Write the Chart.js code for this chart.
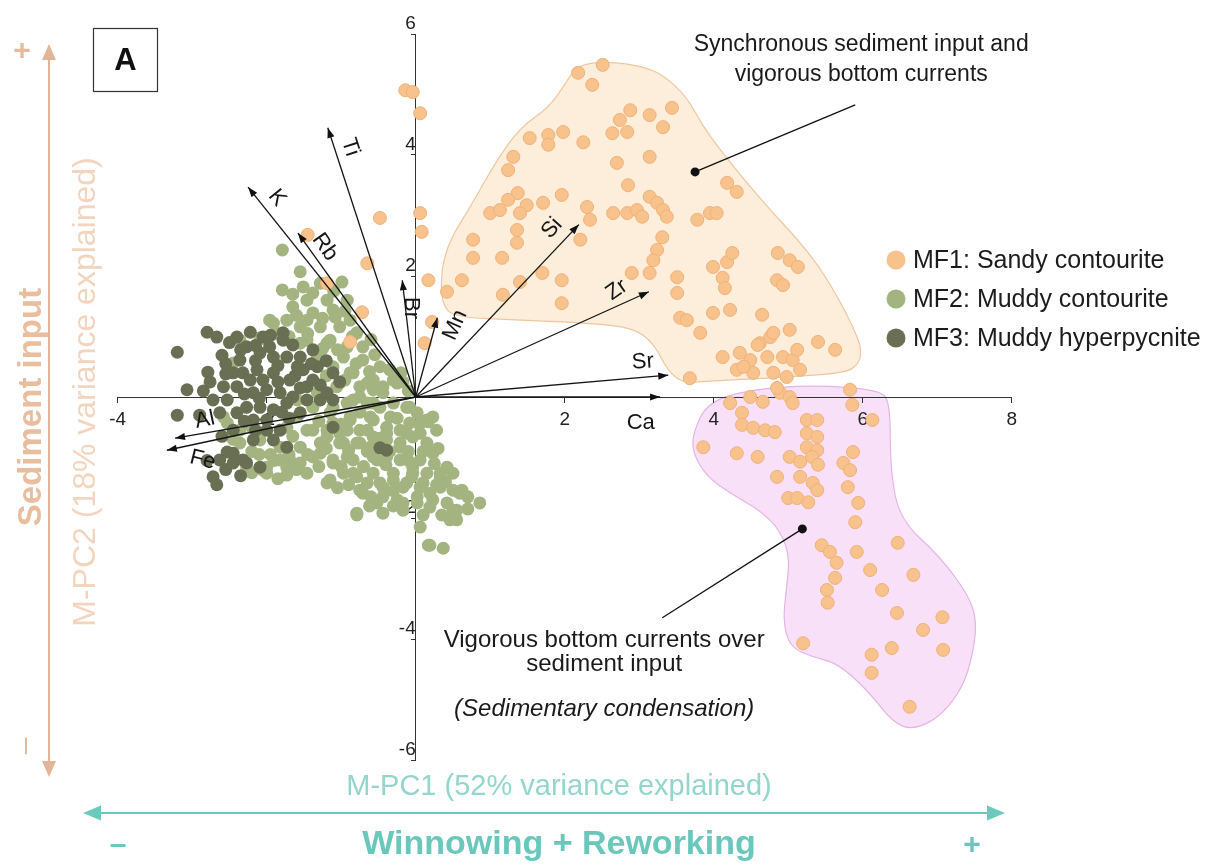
<!DOCTYPE html>
<html>
<head>
<meta charset="utf-8">
<title>M-PCA biplot</title>
<script src="https://cdn.jsdelivr.net/npm/chart.js@4.4.1/dist/chart.umd.min.js"></script>
<style>
  html, body { margin: 0; padding: 0; background: #ffffff; }
  #wrap { position: relative; width: 1228px; height: 866px; }
</style>
</head>
<body>
<div id="wrap"><canvas id="biplot"></canvas></div>
<script>
// ---- Sample scores on M-PC1 (x) and M-PC2 (y), one array per microfacies ----
const seriesNames = ['MF1: Sandy contourite', 'MF2: Muddy contourite', 'MF3: Muddy hyperpycnite'];

const mf1Scores = [
  [2.18,5.36],[2.51,5.49],[2.37,5.16],[2.88,4.74],[3.14,4.66],[3.44,4.78],[2.74,4.58],[3.32,4.46],[2.64,4.36],[2.84,4.38],
  [1.98,4.38],[1.78,4.33],[1.53,4.28],[1.78,4.17],[2.25,4.21],[3.14,3.97],[2.70,3.87],[1.31,3.97],[1.24,3.75],[2.85,3.50],
  [4.18,3.54],[4.31,3.39],[1.96,3.34],[1.37,3.37],[1.24,3.26],[1.71,3.21],[1.49,3.17],[1.00,3.04],[1.13,3.09],[3.14,3.31],
  [3.24,3.21],[3.32,3.09],[3.37,2.98],[2.30,3.14],[2.34,2.93],[2.65,3.04],[2.84,3.04],[2.97,3.09],[3.04,2.98],[3.78,2.93],
  [3.95,3.04],[4.04,3.04],[1.40,3.04],[1.36,2.76],[1.36,2.55],[0.77,2.60],[2.21,2.60],[1.16,2.30],[0.77,2.30],[3.31,2.64],
  [3.24,2.43],[3.19,2.26],[3.14,2.05],[2.90,2.05],[1.70,2.05],[1.40,1.90],[1.96,1.93],[0.62,1.93],[0.42,1.74],[1.17,1.69],
  [1.96,1.55],[3.51,1.98],[3.51,1.72],[3.99,2.15],[4.18,2.23],[4.25,2.38],[4.12,1.97],[4.15,1.80],[4.86,2.38],[5.02,2.26],
  [5.13,2.15],[4.85,1.93],[4.93,1.85],[3.55,1.31],[3.64,1.27],[3.82,1.06],[3.99,1.39],[4.22,1.44],[4.65,1.36],[4.12,0.66],
  [4.35,0.73],[4.49,0.61],[4.62,0.89],[4.76,0.99],[5.02,1.11],[4.53,0.40],[4.80,0.40],[4.93,0.66],[5.06,0.61],[5.16,0.45],
  [4.98,0.33],[5.40,0.91],[5.63,0.78],[3.68,0.31],[4.31,0.45],[5.12,0.78],[4.59,0.86],[4.72,0.66],[4.40,0.50],[4.80,1.06],
  [-0.14,5.07],[-0.04,5.04],[0.06,4.69],[0.06,3.04],[0.08,2.73],[-0.48,2.96],[-0.65,2.21],[0.17,1.93],[-0.72,1.40],[-0.88,0.91],
  [0.22,1.24],[0.12,0.89],[-1.45,2.68],[-1.19,1.88],
  [4.22,-0.10],[4.49,0.00],[4.66,-0.08],[4.89,0.07],[5.02,0.00],[5.06,-0.10],[5.83,0.12],[5.86,-0.13],[6.13,-0.38],[4.38,-0.26],
  [4.38,-0.46],[4.53,-0.51],[4.69,-0.55],[4.82,-0.58],[3.86,-0.83],[4.31,-0.93],[4.59,-0.99],[5.25,-0.38],[5.39,-0.38],[5.25,-0.60],
  [5.39,-0.66],[5.25,-0.83],[5.39,-0.88],[5.02,-0.99],[5.16,-1.07],[5.32,-0.99],[5.40,-1.12],[4.85,-1.32],[5.16,-1.32],[5.33,-1.42],
  [5.39,-1.54],[5.00,-1.67],[5.12,-1.67],[5.27,-1.74],[5.87,-0.91],[5.74,-1.09],[5.83,-1.21],[5.80,-1.49],[5.94,-1.75],[5.90,-2.07],
  [5.45,-2.45],[5.56,-2.56],[5.65,-2.74],[5.63,-2.99],[5.52,-3.19],[5.53,-3.40],[5.92,-2.56],[6.10,-2.86],[6.26,-3.19],[6.47,-2.41],
  [6.68,-2.94],[6.46,-3.57],[6.81,-3.85],[7.07,-3.64],[7.08,-4.18],[6.39,-4.15],[6.12,-4.26],[6.12,-4.56],[5.20,-4.07],[6.63,-5.12],
  [4.85,0.15]
];

const mf2Scores = [
  [-1.79,2.43],[-1.55,2.07],[-1.79,1.77],[-1.51,1.82],[-1.28,1.88],[-0.99,1.90],[-1.65,1.49],[-1.46,1.60],[-1.19,1.60],[-0.92,1.60],
  [-1.73,1.27],[-1.38,1.39],[-1.11,1.44],[-0.88,1.27],[-1.91,1.22],[-1.55,1.16],[-1.28,1.16],[-1.02,1.16],[-0.79,1.06],[-2.00,0.94],
  [-1.15,0.94],[-0.92,0.83],[-0.71,0.83],[-0.97,0.66],[-0.71,0.61],[-0.48,0.50],[-1.11,0.50],[-0.84,0.40],[-0.57,0.28],[-0.25,0.23],
  [-0.75,0.17],[-0.44,0.07],[-1.06,0.17],[-1.32,0.07],[-1.59,-0.05],[-0.84,-0.05],[-0.57,-0.10],[-0.30,-0.10],[-0.12,-0.17],[0.02,-0.26],
  [0.15,-0.38],[-0.08,-0.43],[-0.34,-0.33],[-0.61,-0.33],[-0.88,-0.33],[-1.15,-0.26],[-1.38,-0.17],[-1.59,-0.33],[-1.73,-0.50],[-1.46,-0.55],
  [-1.19,-0.55],[-0.92,-0.55],[-0.65,-0.55],[-0.39,-0.60],[-0.12,-0.60],[0.06,-0.60],[-0.21,-0.83],[-0.48,-0.83],[-0.75,-0.76],[-1.02,-0.76],
  [-1.28,-0.76],[-1.55,-0.83],[-1.82,-0.83],[-2.09,-0.71],[-2.36,-0.76],[-2.36,-0.55],[-2.53,-0.43],[-2.27,-1.16],[-2.00,-1.16],[-1.69,-1.04],
  [-1.38,-0.99],[-1.11,-1.04],[-0.84,-1.04],[-0.52,-1.04],[-0.21,-1.04],[0.06,-1.04],[0.23,-0.93],[-0.04,-1.26],[-0.30,-1.26],[-0.57,-1.26],
  [-0.84,-1.26],[-1.15,-1.37],[-1.46,-1.26],[-1.73,-1.16],[-2.00,-1.26],[-1.19,-1.42],[-0.75,-1.54],[-0.44,-1.49],[-0.17,-1.49],[0.10,-1.42],
  [0.33,-1.26],[0.42,-1.16],[0.50,-1.54],[0.59,-1.59],[0.86,-1.75],[0.42,-1.75],[0.23,-1.70],[0.02,-1.65],[-0.25,-1.70],[-0.52,-1.75],
  [-0.79,-1.92],[-0.44,-1.92],[-0.17,-1.87],[0.19,-1.82],[0.50,-1.87],[0.46,-2.03],[0.55,-2.03],[0.06,-2.15],[0.19,-2.45],[0.37,-2.50],
  [0.23,-0.33],[-0.17,0.25],[0.17,-0.41],
  [-0.08,-0.17],[-0.48,-0.17],[-0.65,-0.10],[-0.57,-0.38],[-0.39,-0.50],[-0.21,-0.55],[-0.04,-0.66],[0.15,-0.76],[0.50,-1.26],[0.33,-1.32],
  [0.15,-1.26],[-0.04,-1.16],[-0.39,-0.99],[-0.57,-0.99],[-0.92,-0.99],[-1.11,-1.09],[-0.97,-1.26],[-0.79,-1.32],[-0.65,-1.42],[-0.48,-1.42],
  [-0.30,-1.37],[-0.12,-1.42],[0.06,-1.49],[0.19,-1.59],[0.33,-1.49],[0.62,-1.54],[0.55,-1.87],[0.02,-1.75],[-0.17,-1.75],[-0.44,-1.65],
  [-0.71,-1.59],[-0.79,-1.95],[0.17,-2.45],[-0.97,-0.76],[-1.19,-0.66],[-1.38,-0.55],[-1.28,-0.93],[-1.11,-0.43],[-0.88,-0.38],[-0.75,-0.55],
  [-0.57,-0.66],[-0.39,-0.71],[-0.21,-0.76],[-1.02,-0.60],[-0.79,-0.76],[-0.61,-0.83],[-0.44,-0.83],[-1.11,-0.17],[-0.92,-0.10],[-0.75,0.00],
  [-0.57,0.12],[-0.44,0.17],[-0.65,0.23],[-0.88,0.40],[-1.02,0.23],
  [-1.96,1.27],[-1.46,1.27],[-1.08,1.32],[-2.09,0.98],[-2.36,0.94],[-1.46,0.94],[-1.19,0.89],[-1.32,0.66],
  [-2.05,-1.21],[-1.82,-1.04],[-1.73,-1.29],[-1.55,-1.09],[-2.45,0.56],[-2.58,-0.33],[-1.55,0.89],
  [-1.65,1.70],[-1.38,1.72],[-1.10,1.75],[-1.60,1.35],[-1.25,1.30],[-0.95,1.42],[-1.85,1.05],[-1.45,1.05],[-0.60,0.95],[-0.85,1.00],
  [-1.70,1.00],[-1.25,0.80],[-1.05,0.78],[-0.55,0.70],[-0.35,0.45],[-0.62,0.42],[-0.20,0.40],[-0.30,0.28],[-0.10,0.10],[-0.95,0.28],
  [-1.20,0.35],[-0.80,0.55],[-1.65,-0.65],[-1.30,-0.40],[-1.00,-0.45],[-0.75,-0.25],[-0.48,-0.68],[-0.25,-0.35],[0.05,-0.45],[0.28,-0.55],
  [0.30,-0.85],[0.10,-0.90],[-0.10,-0.90],[-0.35,-0.90],[-0.65,-0.90],[-0.90,-0.88],[-1.20,-0.85],[-1.45,-0.95],[-1.70,-0.95],[-1.95,-0.95],
  [-2.20,-0.90],[-1.90,-1.05],[-1.60,-1.20],[-1.30,-1.15],[-1.00,-1.15],[-0.70,-1.15],[-0.40,-1.12],[-0.10,-1.05],[0.25,-1.10],[0.40,-1.40],
  [0.70,-1.65],[0.28,-1.45],[-0.05,-1.32],[-0.30,-1.55],[-0.60,-1.65],[-0.90,-1.45],[-1.05,-1.50],[-0.62,-1.80],[-0.30,-1.80],[0.10,-1.95],
  [0.35,-1.95],[0.70,-1.85],[-2.20,-0.50],[-2.10,-0.95],[-2.45,-0.70],[-2.20,-1.25],[-1.85,-1.35]
];

const mf3Scores = [
  [-3.20,0.74],[-2.80,1.07],[-2.67,0.99],[-2.60,0.69],[-3.07,0.12],[-3.20,-0.30],[-2.79,0.41],[-2.76,0.25],[-2.45,0.40],[-2.40,0.99],
  [-2.22,1.07],[-2.27,0.83],[-2.05,0.99],[-1.78,1.06],[-1.78,0.94],[-2.09,0.73],[-1.91,0.66],[-1.73,0.66],[-1.55,0.66],[-1.51,0.45],
  [-1.32,0.50],[-1.11,0.40],[-1.02,0.25],[-1.28,0.20],[-1.46,0.17],[-1.69,0.28],[-1.91,0.40],[-2.13,0.45],[-2.32,0.40],[-2.40,0.17],
  [-2.18,0.07],[-2.00,0.12],[-1.82,0.07],[-1.65,0.00],[-1.46,-0.05],[-1.28,-0.05],[-1.11,-0.05],[-2.27,-0.17],[-2.09,-0.17],[-1.91,-0.21],
  [-2.40,-0.26],[-2.18,-0.38],[-2.00,-0.38],[-1.82,-0.55],[-1.91,-0.71],[-2.18,-0.71],[-2.45,-0.55],[-2.63,-0.26],[-2.72,-0.05],[-2.53,-0.05],
  [-1.11,-0.50],[-1.73,-0.83],[-2.45,-0.93],[-2.63,-1.04],[-2.45,-1.09],[-2.27,-1.09],[-2.09,-1.16],[-2.72,-1.32],[-2.67,-1.45],[-0.48,-0.84],
  [-0.39,-0.88],[-2.53,-0.91],[-2.32,-1.04],
  [-1.59,0.50],[-1.38,0.28],[-1.19,0.07],[-1.55,-0.26],[-1.73,-0.10],[-2.05,0.28],[-2.22,0.28],[-2.58,0.17],[-1.96,0.83],[-1.65,0.86],
  [-1.38,0.78],[-2.36,0.61],
  [-2.55,0.55],[-2.35,0.78],[-2.15,0.85],[-1.95,1.02],[-2.50,0.90],[-2.15,0.60],[-1.85,0.52],[-1.62,0.35],[-1.85,0.25],[-2.10,-0.02],
  [-2.30,0.05],[-2.55,0.38],[-2.00,-0.55],[-2.30,-0.40],[-2.60,-0.65],[-1.70,-0.35],[-1.40,0.55],[-1.20,0.60],[-1.55,0.15],[-2.85,0.10],
  [-2.90,-0.30],[-2.55,-1.20],[-2.35,-1.30],[-2.80,-1.05],[-1.80,-0.25],[-2.15,-0.55]
];

// ---- Element loadings (arrow tips) and their label anchors ----
const loadingNames  = ['Ti', 'K', 'Rb', 'Br', 'Mn', 'Si', 'Zr', 'Sr', 'Ca', 'Al', 'Fe'];
const loadingX      = [-1.18, -2.25, -1.58, -0.18, 0.29, 2.19, 3.13, 3.39, 3.28, -3.23, -3.34];
const loadingY      = [ 4.45,  3.47,  2.71,  1.93, 1.31, 2.85, 1.74, 0.36, 0.00, -0.68, -0.88];
const labelX        = [-0.88, -1.86, -1.22, -0.06, 0.53, 1.83, 2.70, 3.05, 3.02, -2.83, -2.86];
const labelY        = [ 4.13,  3.29,  2.48,  1.47, 1.19, 2.79, 1.77, 0.58, -0.43, -0.38, -1.04];
const labelAngle    = [72, 51, 55, 90, -66, -48, -35, -4, 0, -12, 14];

// ---- Envelopes around the two MF1 groups ----
const hullSandy = [
  [2.34,5.52],[2.63,5.54],[3.01,5.47],[3.31,5.34],[3.64,4.96],[3.84,4.50],[4.11,4.05],[4.46,3.52],[4.78,3.06],[5.13,2.60],
  [5.43,2.13],[5.67,1.64],[5.87,1.16],[5.99,0.78],[5.94,0.53],[5.76,0.40],[5.02,0.33],[3.88,0.26],[3.61,0.23],[3.39,0.41],
  [3.21,0.86],[2.94,1.14],[2.34,1.22],[1.40,1.27],[0.53,1.32],[0.35,1.52],[0.34,2.10],[0.46,2.60],[0.73,3.14],[1.09,3.92],
  [1.40,4.45],[1.78,4.78],[2.00,5.16],[2.14,5.44]
];
const hullCondensed = [
  [3.72,-0.60],[3.91,-0.10],[4.45,0.12],[5.33,0.20],[6.23,0.12],[6.37,-0.10],[6.37,-1.21],[6.50,-2.03],[7.04,-2.64],[7.44,-3.31],
  [7.53,-3.74],[7.48,-4.23],[7.35,-4.79],[7.04,-5.29],[6.68,-5.50],[6.41,-5.39],[6.06,-4.84],[5.66,-4.40],[5.33,-4.30],[5.02,-4.13],
  [4.93,-3.69],[4.98,-3.14],[5.02,-2.64],[4.89,-2.20],[4.62,-1.87],[4.22,-1.59],[3.91,-1.32],[3.72,-0.93]
];

// ---- Callouts: anchor dot, leader end, text lines and their centres ----
const noteSandyDot   = [3.75, 3.72];
const noteSandyEnd   = [5.90, 4.83];
const noteSandyText  = ['Synchronous sediment input and', 'vigorous bottom currents'];
const noteSandyAt    = [[5.98, 5.82], [5.98, 5.32]];
const noteCondDot    = [5.19, -2.18];
const noteCondEnd    = [3.31, -3.65];
const noteCondText   = ['Vigorous bottom currents over', 'sediment input'];
const noteCondAt     = [[2.53, -4.02], [2.53, -4.42]];
const noteCondItalic = '(Sedimentary condensation)';
const noteCondItalicAt = [2.53, -5.17];

// ---- Axis ranges and titles ----
const xRange = [-4, 8];
const yRange = [-6, 6];
const tickStep = 2;
const xTitle = 'M-PC1 (52% variance explained)';
const xMeaning = 'Winnowing + Reworking';
const yTitle = 'M-PC2 (18% variance explained)';
const yMeaning = 'Sediment input';
const panelTag = 'A';

const colours = { mf1: '#f8c28c', mf1Edge: '#f0b17a', mf2: '#a3b480', mf3: '#686f52' };
const FONT = "'Liberation Sans', Arial, Helvetica, sans-serif";
Chart.defaults.font.family = FONT;

const toXY = arr => arr.map(([x, y]) => ({ x, y }));

function smoothClosedPath(ctx, pts) {
  const n = pts.length;
  const mid = (a, b) => [(a[0] + b[0]) / 2, (a[1] + b[1]) / 2];
  const start = mid(pts[n - 1], pts[0]);
  ctx.beginPath();
  ctx.moveTo(start[0], start[1]);
  for (let i = 0; i < n; i++) {
    const p = pts[i];
    const m = mid(p, pts[(i + 1) % n]);
    ctx.quadraticCurveTo(p[0], p[1], m[0], m[1]);
  }
  ctx.closePath();
}

function arrowHead(ctx, x0, y0, x1, y1, len, half) {
  const a = Math.atan2(y1 - y0, x1 - x0);
  const bx = x1 - len * Math.cos(a), by = y1 - len * Math.sin(a);
  ctx.beginPath();
  ctx.moveTo(x1, y1);
  ctx.lineTo(bx + half * Math.sin(a), by - half * Math.cos(a));
  ctx.lineTo(bx - half * Math.sin(a), by + half * Math.cos(a));
  ctx.closePath();
  ctx.fill();
}

function drawText(ctx, s, x, y, font, color, rot = 0, align = 'center', baseline = 'middle') {
  ctx.save();
  ctx.translate(x, y);
  ctx.rotate(rot * Math.PI / 180);
  ctx.font = font;
  ctx.fillStyle = color;
  ctx.textAlign = align;
  ctx.textBaseline = baseline;
  ctx.fillText(s, 0, 0);
  ctx.restore();
}

// Envelopes sit under the axes and the points
const envelopePlugin = {
  id: 'envelopes',
  beforeDraw(chart) {
    const { ctx, scales: { x, y } } = chart;
    const toPx = p => [x.getPixelForValue(p[0]), y.getPixelForValue(p[1])];
    ctx.save();
    smoothClosedPath(ctx, hullSandy.map(toPx));
    ctx.fillStyle = '#fdeddb';
    ctx.fill();
    ctx.strokeStyle = '#efc79f';
    ctx.lineWidth = 1.2;
    ctx.stroke();
    smoothClosedPath(ctx, hullCondensed.map(toPx));
    ctx.fillStyle = '#f9e0f9';
    ctx.fill();
    ctx.strokeStyle = '#e2b6e2';
    ctx.stroke();
    ctx.restore();
  }
};

// Arrowheads and element names on the loading vectors
const loadingPlugin = {
  id: 'loadings',
  afterDatasetsDraw(chart) {
    const { ctx, scales: { x, y } } = chart;
    const ox = x.getPixelForValue(0), oy = y.getPixelForValue(0);
    ctx.save();
    ctx.fillStyle = '#111';
    loadingNames.forEach((name, i) => {
      const tx = x.getPixelForValue(loadingX[i]), ty = y.getPixelForValue(loadingY[i]);
      arrowHead(ctx, ox, oy, tx, ty, 10, 3.6);
      drawText(ctx, name, x.getPixelForValue(labelX[i]), y.getPixelForValue(labelY[i]),
        `22px ${FONT}`, '#151515', labelAngle[i]);
    });
    ctx.restore();
  }
};

// Callouts, legend, panel tag and the interpretive axis arrows
const decorPlugin = {
  id: 'decor',
  afterDraw(chart) {
    const { ctx, scales: { x, y } } = chart;
    const P = p => [x.getPixelForValue(p[0]), y.getPixelForValue(p[1])];
    ctx.save();

    // callout leaders
    ctx.strokeStyle = '#111';
    ctx.fillStyle = '#111';
    ctx.lineWidth = 1.3;
    [[noteSandyDot, noteSandyEnd], [noteCondDot, noteCondEnd]].forEach(([d, e]) => {
      const [dx, dy] = P(d), [ex, ey] = P(e);
      ctx.beginPath(); ctx.moveTo(dx, dy); ctx.lineTo(ex, ey); ctx.stroke();
      ctx.beginPath(); ctx.arc(dx, dy, 4.5, 0, Math.PI * 2); ctx.fill();
    });
    noteSandyText.forEach((s, i) => {
      const [tx, ty] = P(noteSandyAt[i]);
      drawText(ctx, s, tx, ty, `23px ${FONT}`, '#1a1a1a');
    });
    noteCondText.forEach((s, i) => {
      const [tx, ty] = P(noteCondAt[i]);
      drawText(ctx, s, tx, ty, `24px ${FONT}`, '#1a1a1a');
    });
    {
      const [tx, ty] = P(noteCondItalicAt);
      drawText(ctx, noteCondItalic, tx, ty, `italic 24px ${FONT}`, '#1a1a1a');
    }

    // legend
    const legendColours = [colours.mf1, colours.mf2, colours.mf3];
    const rows = [260, 299, 338];
    chart.data.datasets.slice(0, 3).forEach((ds, i) => {
      ctx.beginPath();
      ctx.arc(896, rows[i], 9.5, 0, Math.PI * 2);
      ctx.fillStyle = legendColours[i];
      ctx.fill();
      drawText(ctx, ds.label, 913, rows[i] + 1, `25px ${FONT}`, '#1c1c1c', 0, 'left');
    });

    // panel tag
    ctx.strokeStyle = '#333';
    ctx.lineWidth = 1.2;
    ctx.strokeRect(93.5, 28.5, 64, 63);
    drawText(ctx, panelTag, 125.5, 61, `bold 31px ${FONT}`, '#111');

    // vertical interpretive arrow (M-PC2)
    const peach = '#e2b597';
    ctx.strokeStyle = peach;
    ctx.fillStyle = peach;
    ctx.lineWidth = 2;
    ctx.beginPath(); ctx.moveTo(49, 56); ctx.lineTo(49, 765); ctx.stroke();
    arrowHead(ctx, 49, 100, 49, 44, 16, 7);
    arrowHead(ctx, 49, 700, 49, 777, 16, 7);
    drawText(ctx, '+', 22, 52, `bold 30px ${FONT}`, '#e6bb9c');
    drawText(ctx, '\u2013', 26, 746, `30px ${FONT}`, '#e6bb9c', -90);
    drawText(ctx, yMeaning, 41, 407, `bold 33px ${FONT}`, '#e9be9f', -90, 'center', 'alphabetic');
    drawText(ctx, yTitle, 95, 392, `32px ${FONT}`, '#f3d4bf', -90, 'center', 'alphabetic');

    // horizontal interpretive arrow (M-PC1)
    const teal = '#6ccabd';
    ctx.strokeStyle = teal;
    ctx.fillStyle = teal;
    ctx.lineWidth = 2;
    ctx.beginPath(); ctx.moveTo(95, 813); ctx.lineTo(993, 813); ctx.stroke();
    arrowHead(ctx, 200, 813, 83, 813, 18, 7.5);
    arrowHead(ctx, 900, 813, 1005, 813, 18, 7.5);
    drawText(ctx, xTitle, 559, 787, `29px ${FONT}`, '#92d6cc');
    drawText(ctx, xMeaning, 559, 845, `bold 34px ${FONT}`, '#69c7bb');
    drawText(ctx, '\u2013', 118, 846, `bold 30px ${FONT}`, '#69c7bb');
    drawText(ctx, '+', 972, 846, `bold 30px ${FONT}`, '#69c7bb');

    ctx.restore();
  }
};

const loadingDatasets = loadingNames.map((name, i) => ({
  label: name,
  data: [{ x: 0, y: 0 }, { x: loadingX[i], y: loadingY[i] }],
  showLine: true,
  fill: false,
  borderColor: '#151515',
  borderWidth: 1.3,
  pointRadius: 0,
  pointHoverRadius: 0,
  order: 0
}));

new Chart(document.getElementById('biplot'), {
  type: 'scatter',
  data: {
    datasets: [
      { label: seriesNames[0], data: toXY(mf1Scores), backgroundColor: colours.mf1, borderColor: colours.mf1Edge,
        borderWidth: 1, pointRadius: 6.5, pointHoverRadius: 6.5, order: 1 },
      { label: seriesNames[1], data: toXY(mf2Scores), backgroundColor: colours.mf2, borderColor: colours.mf2,
        borderWidth: 0, pointRadius: 6.5, pointHoverRadius: 6.5, order: 3 },
      { label: seriesNames[2], data: toXY(mf3Scores), backgroundColor: colours.mf3, borderColor: colours.mf3,
        borderWidth: 0, pointRadius: 6.5, pointHoverRadius: 6.5, order: 2 },
      ...loadingDatasets
    ]
  },
  options: {
    responsive: true,
    maintainAspectRatio: false,
    animation: false,
    events: [],
    layout: { padding: { left: 117.7, right: 216.3, top: 34, bottom: 106 } },
    plugins: { legend: { display: false }, tooltip: { enabled: false } },
    scales: {
      x: {
        type: 'linear', min: xRange[0], max: xRange[1], position: { y: 0 },
        grid: { display: true, drawOnChartArea: false, drawTicks: true, tickLength: 5, color: '#333' },
        border: { display: true, color: '#333', width: 1 },
        ticks: { stepSize: tickStep, color: '#222', padding: 6, maxRotation: 0, autoSkip: false,
                 font: { size: 19 }, callback: v => (v === 0 ? '' : v) }
      },
      y: {
        type: 'linear', min: yRange[0], max: yRange[1], position: { x: 0 }, z: 1,
        grid: { display: true, drawOnChartArea: false, drawTicks: true, tickLength: 4, color: '#333' },
        border: { display: true, color: '#333', width: 1 },
        ticks: { stepSize: tickStep, color: '#222', padding: 1, labelOffset: -10, autoSkip: false,
                 font: { size: 19 }, callback: v => (v === 0 ? '' : v) }
      }
    }
  },
  plugins: [envelopePlugin, loadingPlugin, decorPlugin]
});
</script>
</body>
</html>
